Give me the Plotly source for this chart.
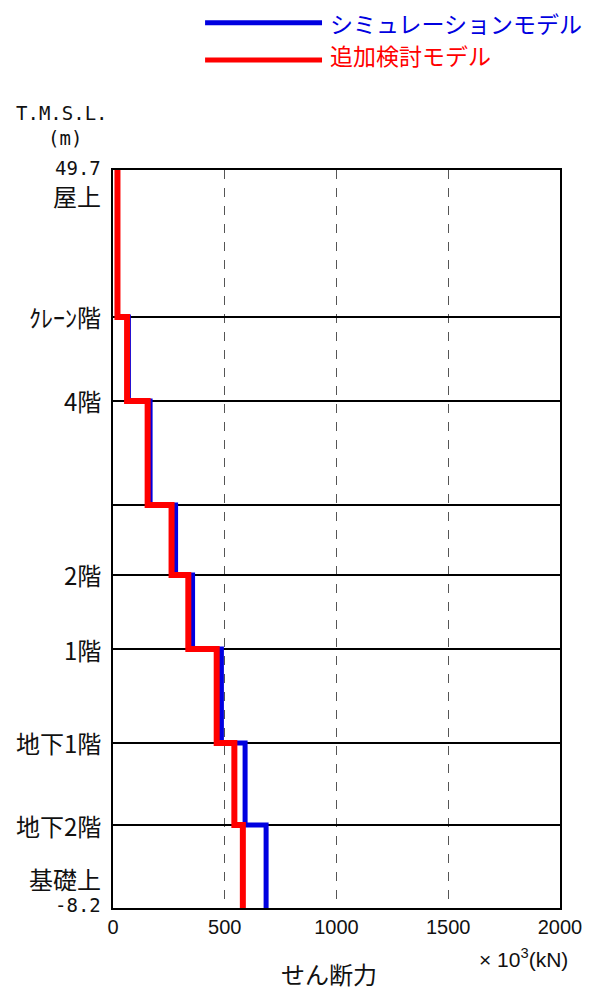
import plotly.graph_objects as go

# Floor levels (T.M.S.L., m), top to bottom
levels = [49.7, 38.17, 31.58, 23.42, 17.93, 12.12, 4.75, -1.69, -8.2]
floor_labels = ["屋上", "ｸﾚｰﾝ階", "4階", "", "2階", "1階", "地下1階", "地下2階", "基礎上"]

# Story shear force (×10^3 kN) for each story between levels
sim_values = [20, 69, 166, 280, 356, 485, 591, 685]
add_values = [20, 63, 155, 262, 337, 464, 543, 581]

series_names = ["シミュレーションモデル", "追加検討モデル"]
x_ticks = [0, 500, 1000, 1500, 2000]

JP = "Noto Sans CJK JP"
MONO = "DejaVu Sans Mono"
BLUE = "#0000e0"
RED = "#ff0000"

fig = go.Figure()
fig.add_trace(go.Scatter(x=sim_values + [sim_values[-1]], y=levels, mode="lines",
                         line=dict(color=BLUE, width=5, shape="vh"), showlegend=False))
fig.add_trace(go.Scatter(x=add_values + [add_values[-1]], y=levels, mode="lines",
                         line=dict(color=RED, width=6, shape="vh"), showlegend=False))

fig.update_layout(
    width=593, height=992,
    margin=dict(l=113, r=33, t=170, b=84),
    paper_bgcolor="white", plot_bgcolor="white",
    font=dict(family=JP, color="#111111"),
    showlegend=False,
    xaxis=dict(range=[0, 2000], tickvals=x_ticks, ticks="", showgrid=True,
               gridcolor="#555555", gridwidth=1, griddash="dash",
               showline=True, linecolor="black", linewidth=2, mirror=True,
               zeroline=False, tickfont=dict(family="Liberation Sans", size=20, color="#111111")),
    yaxis=dict(range=[levels[-1], levels[0]], tickvals=levels, showticklabels=False, ticks="",
               showgrid=True, gridcolor="black", gridwidth=2,
               showline=True, linecolor="black", linewidth=2, mirror=True, zeroline=False),
)

annotations = []
for i, (lv, lab) in enumerate(zip(levels, floor_labels)):
    if not lab:
        continue
    if i == 0:
        annotations.append(dict(x=0, y=lv, xref="paper", yref="y", text="49.7", showarrow=False,
                                xanchor="right", yanchor="middle", xshift=-10, yshift=2,
                                font=dict(family=MONO, size=19)))
        annotations.append(dict(x=0, y=lv, xref="paper", yref="y", text=lab, showarrow=False,
                                xanchor="right", yanchor="middle", xshift=-10, yshift=-25,
                                font=dict(family=JP, size=24)))
    elif i == len(levels) - 1:
        annotations.append(dict(x=0, y=lv, xref="paper", yref="y", text="-8.2", showarrow=False,
                                xanchor="right", yanchor="middle", xshift=-10, yshift=3,
                                font=dict(family=MONO, size=19)))
        annotations.append(dict(x=0, y=lv, xref="paper", yref="y", text=lab, showarrow=False,
                                xanchor="right", yanchor="middle", xshift=-10, yshift=30,
                                font=dict(family=JP, size=24)))
    else:
        annotations.append(dict(x=0, y=lv, xref="paper", yref="y", text=lab, showarrow=False,
                                xanchor="right", yanchor="middle", xshift=-10,
                                font=dict(family=JP, size=24)))

annotations += [
    dict(x=-0.113, y=1.0772, xref="paper", yref="paper", text="T.M.S.L.", showarrow=False,
         xanchor="center", yanchor="middle", font=dict(family=MONO, size=19)),
    dict(x=-0.1085, y=1.0434, xref="paper", yref="paper", text="(m)", showarrow=False,
         xanchor="center", yanchor="middle", font=dict(family=MONO, size=19)),
    dict(x=1.0224, y=-0.0678, xref="paper", yref="paper", text="× 10<sup>3</sup>(kN)", showarrow=False,
         xanchor="right", yanchor="middle", font=dict(family="Liberation Sans", size=21)),
    dict(x=0.483, y=-0.0894, xref="paper", yref="paper", text="せん断力", showarrow=False,
         xanchor="center", yanchor="middle", font=dict(family=JP, size=24)),
    dict(x=0.481, y=1.1996, xref="paper", yref="paper", text=series_names[0], showarrow=False,
         xanchor="left", yanchor="middle", font=dict(family=JP, size=23, color=BLUE)),
    dict(x=0.481, y=1.1558, xref="paper", yref="paper", text=series_names[1], showarrow=False,
         xanchor="left", yanchor="middle", font=dict(family=JP, size=23, color=RED)),
]
fig.update_layout(annotations=annotations)

fig.update_layout(shapes=[
    dict(type="line", xref="paper", yref="paper", x0=0.206, x1=0.4676, y0=1.1996, y1=1.1996,
         line=dict(color=BLUE, width=5)),
    dict(type="line", xref="paper", yref="paper", x0=0.206, x1=0.4676, y0=1.149, y1=1.149,
         line=dict(color=RED, width=5)),
])

fig.write_html("out.html", config={"displayModeBar": False},
               post_script="document.body.style.margin='0';")
